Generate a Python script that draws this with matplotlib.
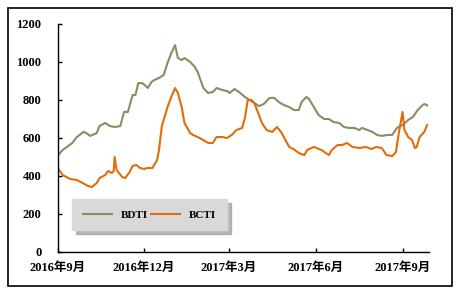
import matplotlib
matplotlib.use('Agg')
import matplotlib.pyplot as plt
from matplotlib.patches import Rectangle
import pandas as pd

# ---------- données ----------
bdti_dates = ['2016-09-01', '2016-09-06', '2016-09-16', '2016-09-21', '2016-09-28', '2016-10-01',
              '2016-10-05', '2016-10-12', '2016-10-15', '2016-10-21', '2016-10-26', '2016-10-31',
              '2016-11-06', '2016-11-10', '2016-11-14', '2016-11-19', '2016-11-22', '2016-11-25',
              '2016-11-29', '2016-12-02', '2016-12-05', '2016-12-09', '2016-12-12', '2016-12-17',
              '2016-12-22', '2016-12-26', '2016-12-30', '2017-01-03', '2017-01-06', '2017-01-10',
              '2017-01-13', '2017-01-19', '2017-01-24', '2017-01-27', '2017-02-02', '2017-02-07',
              '2017-02-12', '2017-02-16', '2017-02-22', '2017-02-27', '2017-03-02', '2017-03-07',
              '2017-03-13', '2017-03-18', '2017-03-23', '2017-03-28', '2017-04-02', '2017-04-07',
              '2017-04-13', '2017-04-18', '2017-04-23', '2017-04-28', '2017-05-04', '2017-05-09',
              '2017-05-14', '2017-05-17', '2017-05-22', '2017-05-25', '2017-05-30', '2017-06-04',
              '2017-06-10', '2017-06-15', '2017-06-20', '2017-06-26', '2017-07-01', '2017-07-06',
              '2017-07-12', '2017-07-17', '2017-07-20', '2017-07-26', '2017-07-31', '2017-08-05',
              '2017-08-10', '2017-08-16', '2017-08-21', '2017-08-26', '2017-09-01', '2017-09-07',
              '2017-09-12', '2017-09-17', '2017-09-21', '2017-09-24', '2017-09-27']
bdti = [510, 537, 573, 605, 632, 626, 611, 626, 663, 679, 663, 658,
        663, 737, 737, 826, 826, 889, 889, 879, 863, 895, 905, 916,
        932, 995, 1047, 1089, 1021, 1010, 1021, 1000, 974, 947, 863, 837,
        842, 863, 853, 847, 837, 858, 837, 816, 800, 784, 768, 779,
        811, 811, 789, 774, 763, 747, 747, 789, 816, 805, 763, 721,
        700, 700, 684, 679, 658, 653, 653, 642, 653, 642, 632, 616,
        611, 616, 616, 653, 668, 695, 711, 747, 768, 779, 772]

bcti_dates = ['2016-09-01', '2016-09-06', '2016-09-14', '2016-09-21', '2016-09-27', '2016-10-03',
              '2016-10-07', '2016-10-12', '2016-10-15', '2016-10-21', '2016-10-24', '2016-10-28',
              '2016-10-30', '2016-10-31', '2016-11-02', '2016-11-08', '2016-11-11', '2016-11-16',
              '2016-11-19', '2016-11-23', '2016-11-27', '2016-12-01', '2016-12-05', '2016-12-10',
              '2016-12-15', '2016-12-17', '2016-12-20', '2016-12-22', '2016-12-26', '2016-12-30',
              '2017-01-03', '2017-01-06', '2017-01-10', '2017-01-13', '2017-01-19', '2017-01-22',
              '2017-01-27', '2017-02-02', '2017-02-07', '2017-02-12', '2017-02-16', '2017-02-22',
              '2017-02-27', '2017-03-04', '2017-03-09', '2017-03-15', '2017-03-18', '2017-03-21',
              '2017-03-25', '2017-03-28', '2017-04-01', '2017-04-05', '2017-04-10', '2017-04-16',
              '2017-04-21', '2017-04-26', '2017-05-01', '2017-05-04', '2017-05-09', '2017-05-14',
              '2017-05-20', '2017-05-23', '2017-05-30', '2017-06-07', '2017-06-15', '2017-06-18',
              '2017-06-24', '2017-06-29', '2017-07-04', '2017-07-10', '2017-07-17', '2017-07-24',
              '2017-07-30', '2017-08-04', '2017-08-10', '2017-08-15', '2017-08-21', '2017-08-25',
              '2017-08-28', '2017-09-01', '2017-09-03', '2017-09-07', '2017-09-11', '2017-09-14',
              '2017-09-16', '2017-09-19', '2017-09-24', '2017-09-27']
bcti = [440, 405, 384, 379, 363, 347, 342, 363, 389, 405, 426, 416,
        426, 500, 432, 395, 389, 421, 453, 458, 442, 437, 442, 442,
        484, 537, 663, 695, 763, 816, 863, 837, 763, 679, 626, 616,
        605, 589, 574, 574, 605, 605, 600, 616, 642, 653, 705, 800,
        800, 784, 732, 679, 642, 632, 658, 626, 579, 553, 540, 521,
        510, 537, 553, 537, 510, 537, 563, 563, 574, 553, 547, 553,
        542, 553, 547, 510, 505, 526, 626, 737, 642, 605, 589, 547,
        553, 605, 632, 668]

tick_dates = ['2016-09-01', '2016-12-01', '2017-03-01', '2017-06-01', '2017-09-01']
tick_labels = ['2016年9月', '2016年12月', '2017年3月', '2017年6月', '2017年9月']
yticks = [0, 200, 400, 600, 800, 1000, 1200]

C_BDTI = '#8c8c64'
C_BCTI = '#e26b0a'
FONT = ['Liberation Serif', 'Noto Sans CJK SC']

fig = plt.figure(figsize=(4.61, 2.95), dpi=100)
# cadre extérieur
fig.patches.append(Rectangle((8 / 461, 9 / 295), 444 / 461, 278 / 295, transform=fig.transFigure,
                             fill=False, edgecolor='black', linewidth=1.2))
ax = fig.add_axes([58 / 461, 43 / 295, 371 / 461, 228 / 295])

ax.plot(pd.to_datetime(bdti_dates), bdti, color=C_BDTI, lw=1.5, label='BDTI')
ax.plot(pd.to_datetime(bcti_dates), bcti, color=C_BCTI, lw=1.5, label='BCTI')

ax.set_xlim(pd.Timestamp('2016-09-01'), pd.Timestamp('2017-09-29'))
ax.set_ylim(0, 1200)
ax.set_yticks(yticks)
ax.set_xticks(pd.to_datetime(tick_dates))
ax.set_xticklabels(tick_labels)
for s in ('top', 'right'):
    ax.spines[s].set_visible(False)
for s in ('left', 'bottom'):
    ax.spines[s].set_linewidth(1.0)
ax.tick_params(axis='both', direction='in', length=3, width=1)
ax.tick_params(axis='y', pad=12)
ax.tick_params(axis='x', pad=7)
for lab in ax.get_xticklabels() + ax.get_yticklabels():
    lab.set_family(FONT); lab.set_fontweight('bold'); lab.set_fontsize(9)

leg = ax.legend(loc='lower left', bbox_to_anchor=(0.038, 0.096, 0.417, 0.141), mode='expand',
                ncol=2, frameon=True, fancybox=False, facecolor='#d9d9d9', edgecolor='#d9d9d9',
                framealpha=1, handlelength=2.6, borderaxespad=0, borderpad=0.95,
                shadow={'color': '#9a9a9a', 'alpha': 0.7, 'ox': 3, 'oy': -3},
                prop={'family': FONT, 'weight': 'bold', 'size': 8})

fig.savefig('out.png', dpi=100)
